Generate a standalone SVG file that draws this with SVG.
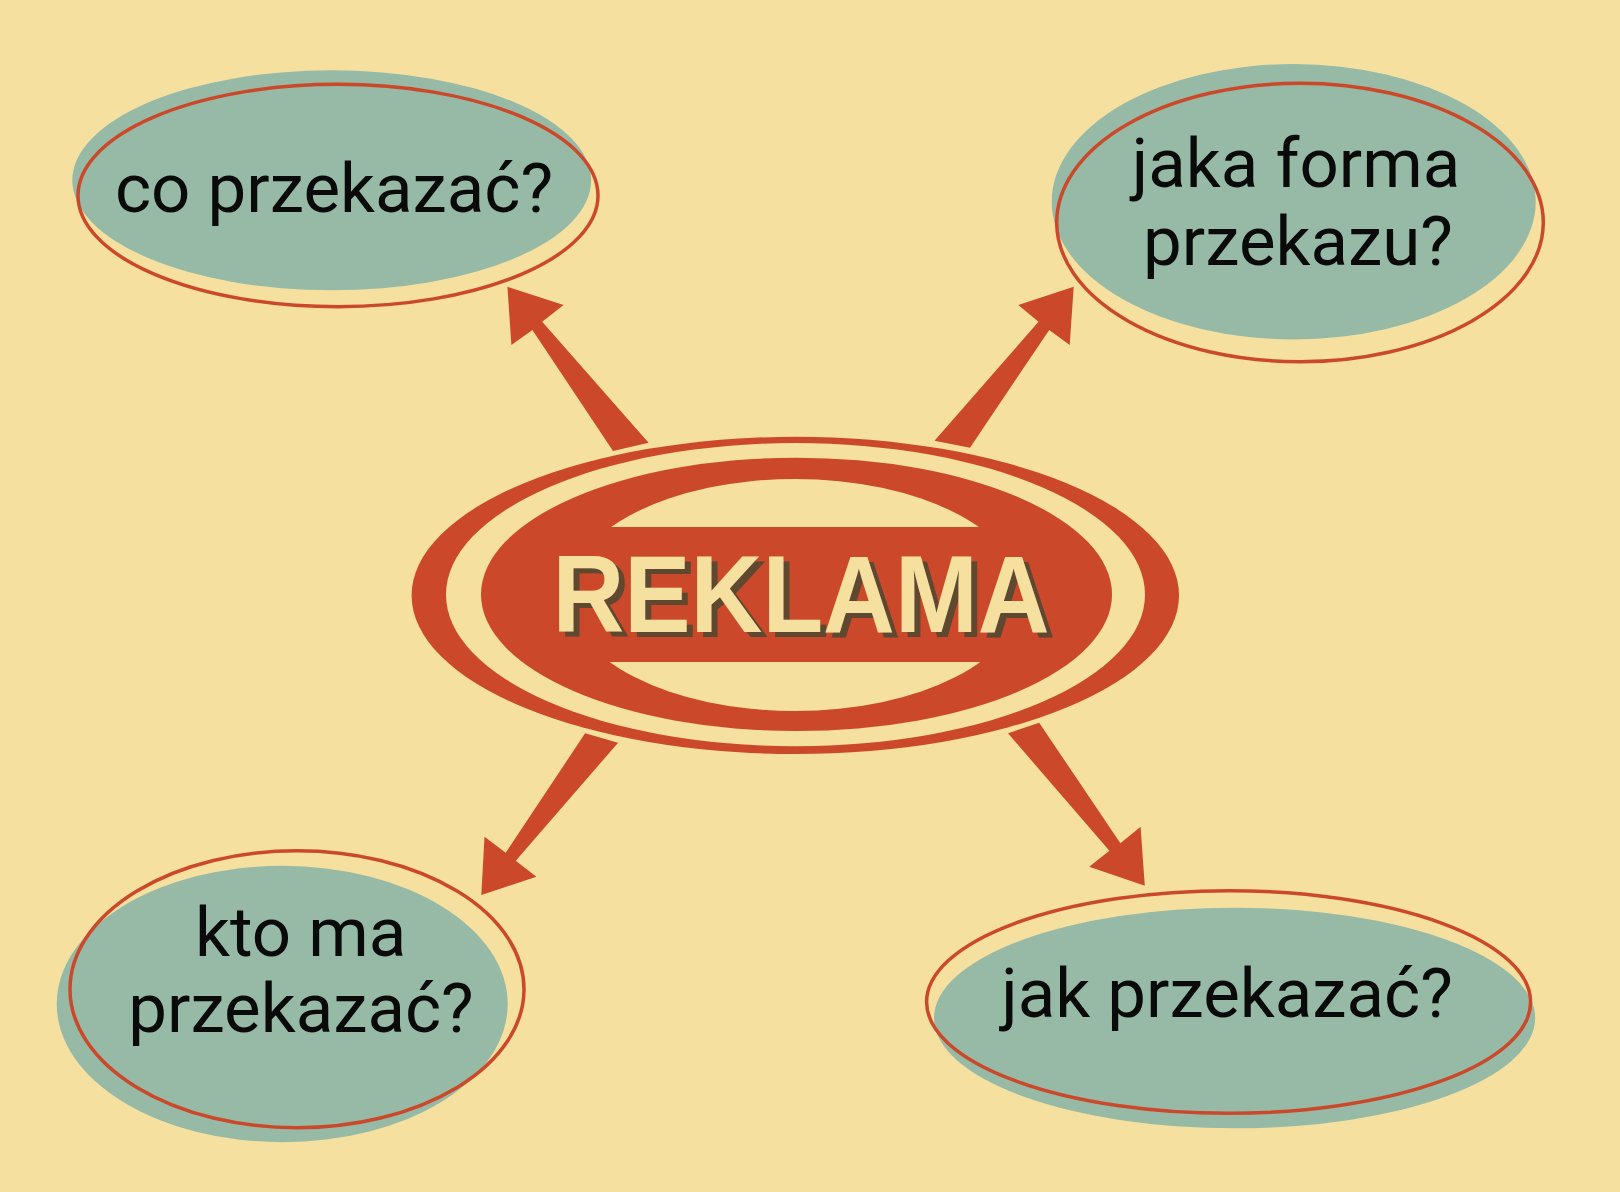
<svg xmlns="http://www.w3.org/2000/svg" width="1620" height="1192" viewBox="0 0 1620 1192">
<style>
.bg{fill:#F6E0A0}
.red{fill:#CB492A}
.cream{fill:#F6E0A0}
.teal{fill:#96BAA6}
.ring{fill:none;stroke:#CB492A;stroke-width:3.5}
.q{font-family:Roboto,"Liberation Sans",sans-serif;font-size:69px;fill:#0a0a0a;text-anchor:middle}
.title{font-family:"Liberation Sans",Arial,sans-serif;font-weight:bold;font-size:109px;fill:#F6E0A0}
</style>
<defs>
<filter id="shadow" x="-5%" y="-10%" width="115%" height="130%" color-interpolation-filters="sRGB">
<feOffset in="SourceAlpha" dx="5.5" dy="4.5" result="off"/>
<feFlood flood-color="#5E4830"/>
<feComposite in2="off" operator="in" result="sh"/>
<feMerge><feMergeNode in="sh"/><feMergeNode in="SourceGraphic"/></feMerge>
</filter>
</defs>
<rect class="bg" x="0" y="0" width="1620" height="1192"/>
<g id="connectors" class="red">
<polygon points="613,451 532.4,330 511.4,345 507.4,286.7 563.6,305 542.2,321.7 648.6,442.7"/>
<polygon points="934.5,440.7 1038.5,321.7 1018.3,305 1073.7,286.7 1069.7,345 1049.2,330 970,447.7"/>
<polygon points="585.1,733.3 505.7,852.7 484.5,836.7 481.3,895 536.4,876.7 515.8,860.7 618.1,742.7"/>
<polygon points="1039.2,722.7 1120.4,843.3 1140.6,826.7 1144.8,885.7 1089.2,866.7 1109.4,850.7 1008,733.3"/>
</g>
<g id="reklama">
<ellipse class="red" cx="795.3" cy="595.4" rx="383.7" ry="158.6"/>
<ellipse class="cream" cx="795.5" cy="594.6" rx="349.5" ry="151.6"/>
<ellipse class="red" cx="796.5" cy="594.4" rx="315.5" ry="136.7"/>
<ellipse class="cream" cx="795" cy="595" rx="227" ry="116"/>
<rect class="red" x="560" y="527" width="470" height="135"/>
<text class="title" x="552.5" y="632" textLength="497" lengthAdjust="spacingAndGlyphs" filter="url(#shadow)">REKLAMA</text>
</g>
<g id="node-co">
<ellipse class="teal" cx="331.7" cy="180.3" rx="259.4" ry="110"/>
<ellipse class="ring" cx="338" cy="195.5" rx="260" ry="111.2"/>
<text class="q" x="334" y="211.7">co przekazać?</text>
</g>
<g id="node-forma">
<ellipse class="teal" cx="1293.7" cy="201.7" rx="242" ry="137.7"/>
<ellipse class="ring" cx="1300" cy="222.5" rx="243.3" ry="139.2"/>
<text class="q" x="1296" y="187.3">jaka forma</text>
<text class="q" x="1298" y="265">przekazu?</text>
</g>
<g id="node-kto">
<ellipse class="teal" cx="282.2" cy="1004" rx="225.5" ry="138.2"/>
<ellipse class="ring" cx="297" cy="989.2" rx="227" ry="138.5"/>
<text class="q" x="300.7" y="955.7">kto ma</text>
<text class="q" x="301" y="1031.7">przekazać?</text>
</g>
<g id="node-jak">
<ellipse class="teal" cx="1234.6" cy="1018" rx="300.6" ry="110.3"/>
<ellipse class="ring" cx="1228.6" cy="1002" rx="302" ry="111.3"/>
<text class="q" x="1227" y="1017.3">jak przekazać?</text>
</g>
</svg>
